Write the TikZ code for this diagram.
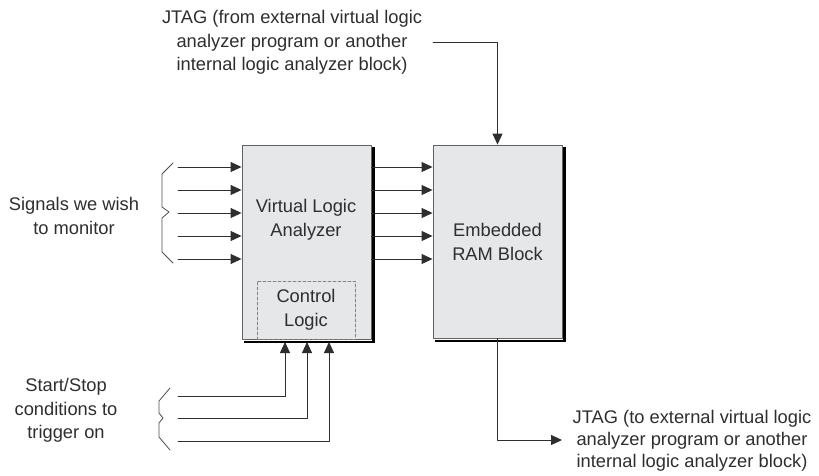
\documentclass[tikz,border=0pt]{standalone}
\usepackage{fontspec}
\setmainfont{Liberation Sans}
\usetikzlibrary{arrows.meta}
\definecolor{boxfill}{HTML}{E6E7E9}
\definecolor{wire}{HTML}{2E2E2E}
\tikzset{
  blk/.style={draw=wire!75,line width=0.9pt,fill=boxfill,inner sep=0pt},
  lbl/.style={align=center,inner sep=0pt,font=\fontsize{18.3}{23.5}\selectfont,text=wire},
  sig/.style={draw=wire,line width=0.9pt,-{Triangle[length=11pt,width=10pt]}},
  shade/.style={line width=2.6pt,black,line cap=butt,line join=miter},
  brc/.style={draw=wire!85,line width=0.8pt},
}
\begin{document}
\begin{tikzpicture}[x=1pt,y=-1pt,line cap=round,line join=round]
  \useasboundingbox (0,0) rectangle (819,475);
  % blocks
  \node[blk,minimum width=129pt,minimum height=194pt] (vla) at (306.5,242) {};
  \node[blk,minimum width=129pt,minimum height=193pt] (ram) at (497.5,241.5) {};
  \node[lbl,draw=wire!60,dash pattern=on 3pt off 2pt,line width=0.6pt,
    minimum width=98pt,minimum height=58pt] (ctl) at (306,310) {Control\\Logic};
  \draw[shade] ([xshift=2pt,yshift=-2pt]vla.north east) -- ([xshift=2pt,yshift=-2.4pt]vla.south east)
    -- ([xshift=2pt,yshift=-2.4pt]vla.south west);
  \draw[shade] ([xshift=2pt,yshift=-2pt]ram.north east) -- ([xshift=2pt,yshift=-2.4pt]ram.south east)
    -- ([xshift=2pt,yshift=-2.4pt]ram.south west);
  % labels
  \node[lbl] (vlatxt) at (306,220) {Virtual Logic\\Analyzer};
  \node[lbl] (ramtxt) at (497.5,242) {Embedded\\RAM Block};
  \node[lbl] (mon) at (74,216) {Signals we wish\\to monitor};
  \node[lbl] (trig) at (66,410.5) {Start/Stop\\conditions to\\trigger on};
  \node[lbl] (jin) at (292,42.5) {JTAG (from external virtual logic\\analyzer program or another\\internal logic analyzer block)};
  \node[lbl,font=\fontsize{18.3}{22}\selectfont] (jout) at (692,441) {JTAG (to external virtual logic\\analyzer program or another\\internal logic analyzer block)};
  % monitored signals
  \draw[brc] (173,163) -- (162,174) -- (162,207) -- (169,212) -- (162,218) -- (162,252) -- (173,263);
  \foreach \y [count=\i] in {167,190,213,236,259} {
    \coordinate (in\i) at (178,\y);
    \draw[sig] (in\i) -- (in\i -| vla.west);
    \draw[sig] (vla.east |- in\i) -- (ram.west |- in\i);
  }
  % trigger conditions
  \draw[brc] (170,388) -- (159,401) -- (159,413) -- (163,418) -- (159,423) -- (159,437) -- (170,450);
  \foreach \y/\x [count=\i] in {396/285,418/307,441/329} {
    \coordinate (tr\i) at (178,\y);
    \coordinate (cl\i) at (\x,342);
    \draw[sig] (tr\i) -| (cl\i);
  }
  % jtag
  \coordinate (jinend) at (433,42);
  \coordinate (joutend) at (562,440);
  \draw[sig] (jinend) -| (ram.north);
  \draw[sig] (ram.south) |- (joutend);
\end{tikzpicture}
\end{document}
